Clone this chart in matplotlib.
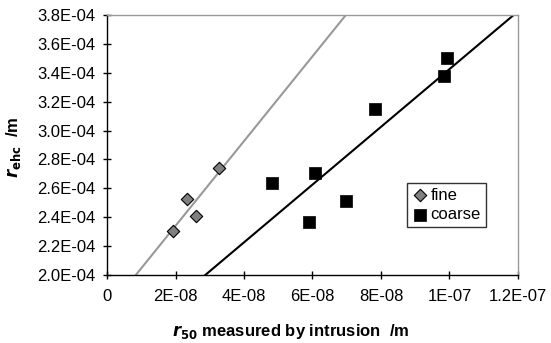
import numpy as np
import matplotlib
matplotlib.use("Agg")
import matplotlib.pyplot as plt
from matplotlib.ticker import FixedLocator, FuncFormatter

# Data
fine_x = [1.92e-8, 2.33e-8, 2.60e-8, 3.27e-8]
fine_y = [2.307e-4, 2.526e-4, 2.41e-4, 2.739e-4]
coarse_x = [4.81e-8, 6.07e-8, 5.91e-8, 6.98e-8, 7.82e-8, 9.84e-8, 9.94e-8]
coarse_y = [2.639e-4, 2.704e-4, 2.369e-4, 2.512e-4, 3.151e-4, 3.378e-4, 3.50e-4]
x_ticks = [0, 2e-8, 4e-8, 6e-8, 8e-8, 1e-7, 1.2e-7]
x_tick_labels = ["0", "2E-08", "4E-08", "6E-08", "8E-08", "1E-07", "1.2E-07"]
y_ticks = [2.0e-4, 2.2e-4, 2.4e-4, 2.6e-4, 2.8e-4, 3.0e-4, 3.2e-4, 3.4e-4, 3.6e-4, 3.8e-4]

plt.rcParams['font.family'] = ['Liberation Sans', 'DejaVu Sans']

fig = plt.figure(figsize=(5.51, 3.43), dpi=100)
ax = fig.add_axes([0.1942, 0.1983, 0.7459, 0.758])

xmin, xmax = 0, 1.2e-7
ymin, ymax = 2.0e-4, 3.8e-4

# trend lines (linear fits)
xx = np.linspace(xmin, xmax, 200)
pf = np.polyfit(fine_x, fine_y, 1)
pc = np.polyfit(coarse_x, coarse_y, 1)
ax.plot(xx, np.polyval(pf, xx), color='#999999', lw=1.5, zorder=2)
ax.plot(xx, np.polyval(pc, xx), color='black', lw=1.5, zorder=2)

ax.scatter(fine_x, fine_y, marker='D', s=40, facecolor='#808080',
           edgecolor='black', linewidths=0.8, zorder=3, label='fine')
ax.scatter(coarse_x, coarse_y, marker='s', s=70, facecolor='black',
           edgecolor='black', linewidths=0.5, zorder=3, label='coarse')

ax.set_xlim(xmin, xmax)
ax.set_ylim(ymin, ymax)
ax.xaxis.set_major_locator(FixedLocator(x_ticks))
ax.set_xticklabels(x_tick_labels)
ax.yaxis.set_major_locator(FixedLocator(y_ticks))
ax.yaxis.set_major_formatter(FuncFormatter(lambda v, p: "%.1E" % v))
ax.tick_params(direction='inout', length=6, width=1, labelsize=12, colors='black')
ax.tick_params(axis='x', pad=7)
ax.tick_params(axis='y', pad=5.5)

for s in ['top', 'right']:
    ax.spines[s].set_color('#999999')
    ax.spines[s].set_linewidth(1)
for s in ['left', 'bottom']:
    ax.spines[s].set_color('black')
    ax.spines[s].set_linewidth(1)

ax.set_xlabel(r"$\boldsymbol{r}_{\mathbf{50}}$ measured by intrusion  /m",
              fontsize=12, fontweight='bold')
ax.xaxis.set_label_coords(0.4477, -0.18)
ax.set_ylabel(r"$\boldsymbol{r}_{\mathbf{ehc}}$  /m", fontsize=12, fontweight='bold')
ax.yaxis.set_label_coords(-0.205, 0.49)

leg = ax.legend(loc='lower left', bbox_to_anchor=(0.730, 0.185), fontsize=12,
                frameon=True, fancybox=False, handletextpad=0.1, borderpad=0.3,
                handlelength=1.0, labelspacing=0.25, borderaxespad=0)
leg.get_frame().set_edgecolor('black')
leg.get_frame().set_linewidth(1)

fig.savefig("out.png", dpi=100)
